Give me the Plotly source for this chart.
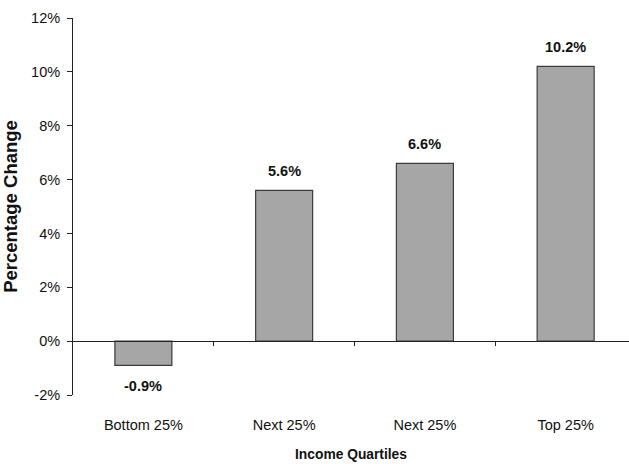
import plotly.graph_objects as go

# Income quartiles and their percentage change
quartiles = ["Bottom 25%", "Next 25%", "Next 25%", "Top 25%"]
pct_change = [-0.9, 5.6, 6.6, 10.2]
y_ticks = [-2, 0, 2, 4, 6, 8, 10, 12]

positions = list(range(len(quartiles)))
boundaries = [p + 0.5 for p in positions]

FONT = "Liberation Sans, Arial, sans-serif"
INK = "#111111"

fig = go.Figure()

fig.add_trace(go.Bar(
    x=positions,
    y=pct_change,
    width=0.405,
    marker=dict(color="#a6a6a6", line=dict(color="#3c3c3c", width=1.2)),
    hoverinfo="skip",
    showlegend=False,
))

# invisible trace that keeps the zero-line axis alive
fig.add_trace(go.Scatter(
    x=positions, y=[0] * len(positions), xaxis="x2", mode="none",
    hoverinfo="skip", showlegend=False,
))

# value labels above (or below) each bar
for p, v in zip(positions, pct_change):
    fig.add_annotation(
        x=p, y=v, xref="x", yref="y",
        text=f"<b>{v:.1f}%</b>",
        showarrow=False,
        yanchor="bottom" if v >= 0 else "top",
        yshift=9 if v >= 0 else -11,
        font=dict(family=FONT, size=14.5, color=INK),
    )

x_range = [-0.5, 3.45]

fig.update_layout(
    width=629, height=464,
    margin=dict(l=73, r=0, t=18, b=69),
    paper_bgcolor="white",
    plot_bgcolor="white",
    xaxis=dict(
        range=x_range,
        tickmode="array",
        tickvals=positions,
        ticktext=quartiles,
        ticks="",
        showline=False,
        showgrid=False,
        zeroline=False,
        ticklabelstandoff=19,
        tickfont=dict(family=FONT, size=14.5, color=INK),
        title=dict(
            text="<b>Income Quartiles</b>",
            font=dict(family=FONT, size=13.8, color=INK),
            standoff=17,
        ),
    ),
    xaxis2=dict(
        range=x_range,
        overlaying="x",
        anchor="free",
        position=2 / 14,
        tickmode="array",
        tickvals=boundaries,
        showticklabels=False,
        ticks="outside",
        ticklen=4,
        tickwidth=1,
        tickcolor="#222222",
        showline=True,
        linecolor="#222222",
        linewidth=1,
        showgrid=False,
        zeroline=False,
    ),
    yaxis=dict(
        range=[-2, 12],
        tickmode="array",
        tickvals=y_ticks,
        ticktext=[f"{t}%" for t in y_ticks],
        ticks="outside",
        ticklen=5,
        tickwidth=1,
        tickcolor="#222222",
        showline=True,
        linecolor="#222222",
        linewidth=1,
        showgrid=False,
        zeroline=False,
        ticklabelstandoff=4,
        tickfont=dict(family=FONT, size=14.5, color=INK),
        title=dict(
            text="<b>Percentage Change</b>",
            font=dict(family=FONT, size=18.5, color=INK),
            standoff=11,
        ),
    ),
)

fig.write_html("out.html")
